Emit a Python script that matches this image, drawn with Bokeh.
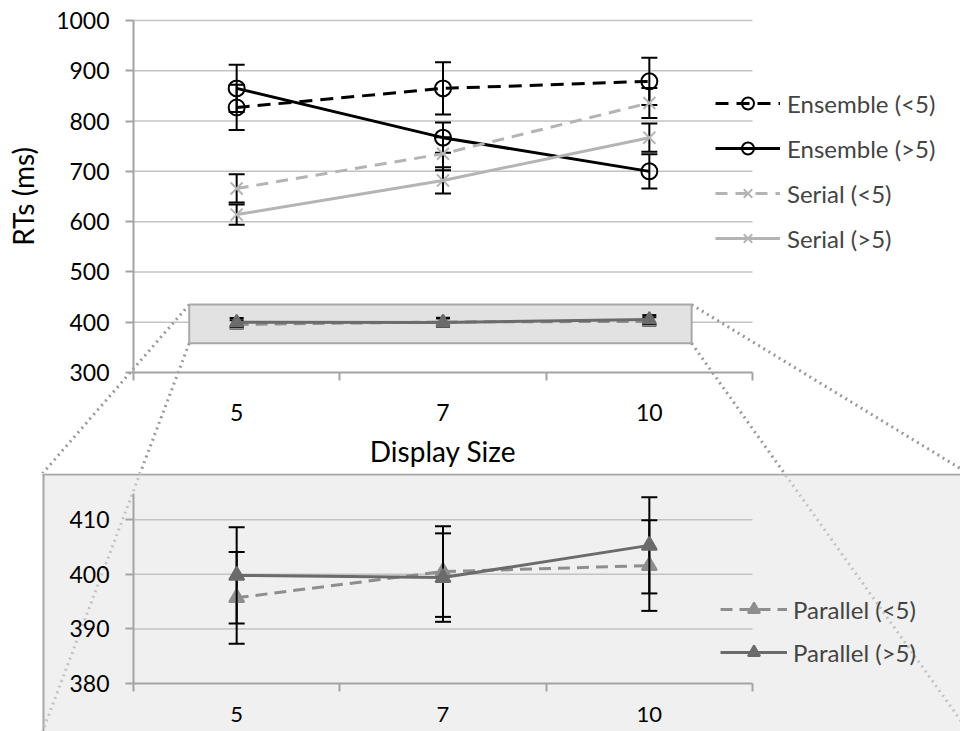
from bokeh.plotting import figure
from bokeh.models import Range1d, FixedTicker, Legend, LegendItem
from bokeh.layouts import column
from bokeh.embed import file_html
from bokeh.resources import INLINE

# ---------------- data ----------------
categories = ["5", "7", "10"]

ensemble_lt5 = [827, 865, 879]
ensemble_lt5_err = [45, 52, 47]
ensemble_gt5 = [865, 767, 700]
ensemble_gt5_err = [47, 30, 34]
serial_lt5 = [666, 735, 836]
serial_lt5_err = [28, 33, 30]
serial_gt5 = [614, 682, 767]
serial_gt5_err = [20, 26, 28]
parallel_lt5 = [395.7, 400.5, 401.6]
parallel_lt5_err = [8.4, 8.3, 8.3]
parallel_gt5 = [399.8, 399.4, 405.3]
parallel_gt5_err = [8.8, 8.1, 8.8]

main_y_ticks = [300, 400, 500, 600, 700, 800, 900, 1000]
inset_y_ticks = [380, 390, 400, 410]

# ---------------- styles ----------------
FONT = "Lato"
ENS = "#000000"
SER = "#b4b4b4"
PAR_LT = "#8e8e8e"
PAR_GT = "#6b6b6b"
GRID = "#c3c3c3"
AXIS = "#a3a3a3"
DOT_TOP = "#9a9a9a"
DOT_BOT = "#c4c4c4"
PANEL = "#f0f0f0"

N = len(categories)
x_pos = [i + 0.5 for i in range(N)]
x_bounds = [float(i) for i in range(N + 1)]
label_map = {x: c for x, c in zip(x_pos, categories)}

MAIN_LO, MAIN_HI = 300, 1000
INSET_LO, INSET_HI = 380, 414.8

# page geometry (pixels) of the two plotting areas
W = 960
TOP_H, BOT_H = 473, 258
AX_L, AX_R = 133, 752            # category axis extent, both charts
TOP_T, TOP_B = 20, 372           # main chart value axis extent
BOT_T, BOT_B = 493, 683          # inset value axis extent (page y)
PANEL_L, PANEL_T, PANEL_R, PANEL_B = 42, 473, 968, 731

px_x = (AX_R - AX_L) / N
px_y1 = (TOP_B - TOP_T) / (MAIN_HI - MAIN_LO)
px_y2 = (BOT_B - BOT_T) / (INSET_HI - INSET_LO)

x_range = Range1d(-AX_L / px_x, (W - AX_L) / px_x)
y1_range = Range1d(MAIN_LO - (TOP_H - TOP_B) / px_y1, MAIN_HI + TOP_T / px_y1)
y2_range = Range1d(INSET_LO - (TOP_H + BOT_H - BOT_B) / px_y2,
                   INSET_HI + (BOT_T - TOP_H) / px_y2)


def top_data(X, Y):
    return ((X - AX_L) / px_x, MAIN_HI - (Y - TOP_T) / px_y1)


def top_px(x, y):
    return (AX_L + x * px_x, TOP_T + (MAIN_HI - y) * px_y1)


def bot_data(X, Y):
    return ((X - AX_L) / px_x, INSET_HI - (Y - BOT_T) / px_y2)


# zoom box in the main chart (data units)
BOX_L, BOX_R, BOX_B, BOX_T = 0.27, 2.705, 358, 435


def style_fig(fig, y_ticks, y_lo, y_hi, x_label_standoff):
    fig.outline_line_color = None
    fig.grid.visible = False
    fig.min_border = 0
    xa = fig.xaxis[0]
    ya = fig.yaxis[0]
    xa.fixed_location = y_lo
    xa.bounds = (0, N)
    ya.fixed_location = 0
    ya.bounds = (y_lo, y_hi)
    ya.ticker = FixedTicker(ticks=y_ticks)
    xa.ticker = FixedTicker(ticks=x_pos, minor_ticks=x_bounds)
    xa.major_label_overrides = label_map
    xa.major_tick_out = 0
    xa.major_tick_in = 0
    xa.minor_tick_out = 8
    xa.minor_tick_in = 0
    xa.minor_tick_line_color = AXIS
    xa.minor_tick_line_width = 2
    xa.major_label_standoff = x_label_standoff
    ya.major_tick_out = 8
    ya.major_tick_in = 0
    ya.minor_tick_line_color = None
    ya.major_tick_line_color = AXIS
    ya.major_tick_line_width = 2
    ya.major_label_standoff = 16
    for ax in (xa, ya):
        ax.axis_line_color = AXIS
        ax.axis_line_width = 2
        ax.major_label_text_font = FONT
        ax.major_label_text_font_size = "23px"
        ax.major_label_text_color = "#000000"
        ax.axis_label_text_font = FONT
        ax.axis_label_text_font_size = "28px"
        ax.axis_label_text_font_style = "normal"
        ax.axis_label_text_color = "#000000"
    # horizontal gridlines over the category extent
    grid_vals = [t for t in y_ticks if t > y_lo]
    fig.segment(x0=[0] * len(grid_vals), x1=[N] * len(grid_vals), y0=grid_vals, y1=grid_vals,
                line_color=GRID, line_width=1.5)


def add_series(fig, vals, errs, color, dash, marker, msize, filled, cap=16):
    ln = fig.line(x_pos, vals, line_color=color, line_width=3, line_dash=dash)
    lower = [v - e for v, e in zip(vals, errs)]
    upper = [v + e for v, e in zip(vals, errs)]
    fig.segment(x0=x_pos, y0=lower, x1=x_pos, y1=upper, line_color="black", line_width=2)
    fig.scatter(x=x_pos + x_pos, y=lower + upper, marker="dash", size=cap,
                line_color="black", line_width=2)
    mk = fig.scatter(x_pos, vals, marker=marker, size=msize, line_color=color,
                     fill_color=color if filled else None, line_width=2)
    return [ln, mk]


def dotted(fig, p0, p1, color, width=3, dash="2 4"):
    fig.segment(x0=[p0[0]], y0=[p0[1]], x1=[p1[0]], y1=[p1[1]],
                line_color=color, line_width=width, line_dash=dash)


# ---------------- main chart ----------------
p = figure(width=W, height=TOP_H, frame_width=W, frame_height=TOP_H, title=None,
           x_range=x_range, y_range=y1_range,
           output_backend="svg", toolbar_location=None)
style_fig(p, main_y_ticks, MAIN_LO, MAIN_HI, 23)
p.xaxis.axis_label = "Display Size"
p.xaxis.axis_label_standoff = 10
p.yaxis.axis_label = "RTs (ms)"
p.yaxis.axis_label_standoff = 13

box_tl = (BOX_L, BOX_T)
box_bl = (BOX_L, BOX_B)
box_tr = (BOX_R, BOX_T)
box_br = (BOX_R, BOX_B)

# magnifier lines (box corners -> inset panel corners)
dotted(p, box_tl, top_data(PANEL_L, PANEL_T), DOT_TOP)
dotted(p, box_bl, top_data(PANEL_L, PANEL_B), DOT_TOP)
dotted(p, box_tr, top_data(PANEL_R, PANEL_T), DOT_TOP)
dotted(p, box_br, top_data(PANEL_R, PANEL_B), DOT_TOP)

# zoom box
p.quad(left=[BOX_L], right=[BOX_R], bottom=[BOX_B], top=[BOX_T],
       fill_color="#e2e2e2", line_color="#a8a8a8", line_width=2)

r_ens_lt = add_series(p, ensemble_lt5, ensemble_lt5_err, ENS, "13 8", "circle", 16, False)
r_ens_gt = add_series(p, ensemble_gt5, ensemble_gt5_err, ENS, "solid", "circle", 16, False)
r_ser_lt = add_series(p, serial_lt5, serial_lt5_err, SER, "12 8", "x", 17, False)
r_ser_gt = add_series(p, serial_gt5, serial_gt5_err, SER, "solid", "x", 17, False)
add_series(p, parallel_lt5, parallel_lt5_err, PAR_LT, "12 7", "triangle", 13, True, cap=14)
add_series(p, parallel_gt5, parallel_gt5_err, PAR_GT, "solid", "triangle", 13, True, cap=14)

legend = Legend(items=[LegendItem(label="Ensemble (<5)", renderers=r_ens_lt),
                       LegendItem(label="Ensemble (>5)", renderers=r_ens_gt),
                       LegendItem(label="Serial (<5)", renderers=r_ser_lt),
                       LegendItem(label="Serial (>5)", renderers=r_ser_gt)],
                location=(715, TOP_H - 253), padding=0, margin=0, spacing=15,
                glyph_width=65, glyph_height=30, label_height=30, label_standoff=7,
                label_text_font=FONT, label_text_font_size="24px",
                border_line_color=None, background_fill_alpha=0)
p.add_layout(legend)

# ---------------- inset chart ----------------
q = figure(width=W, height=BOT_H, frame_width=W, frame_height=BOT_H, title=None,
           x_range=x_range, y_range=y2_range,
           output_backend="svg", toolbar_location=None)

# grey panel with its top and left border
pl, pt = bot_data(PANEL_L, PANEL_T)
pr, pb = bot_data(PANEL_R, PANEL_B + 20)
q.quad(left=[pl], right=[pr], bottom=[pb], top=[pt], fill_color=PANEL, line_color=None)
dotted(q, bot_data(PANEL_L, PANEL_T + 1), bot_data(PANEL_R, PANEL_T + 1), "#a8a8a8", width=2, dash="solid")
dotted(q, bot_data(PANEL_L + 1, PANEL_T), bot_data(PANEL_L + 1, PANEL_B + 20), "#a8a8a8", width=2, dash="solid")

style_fig(q, inset_y_ticks, INSET_LO, INSET_HI, 15)
q.xaxis.major_label_text_font_size = "22px"

# magnifier lines continuing through the panel
dotted(q, bot_data(*top_px(*box_bl)), bot_data(PANEL_L, PANEL_B), DOT_BOT)
dotted(q, bot_data(*top_px(*box_br)), bot_data(PANEL_R, PANEL_B), DOT_BOT)

r_par_lt = add_series(q, parallel_lt5, parallel_lt5_err, PAR_LT, "12 7", "triangle", 15, True)
r_par_gt = add_series(q, parallel_gt5, parallel_gt5_err, PAR_GT, "solid", "triangle", 15, True)

legend2 = Legend(items=[LegendItem(label="Parallel (<5)", renderers=r_par_lt),
                        LegendItem(label="Parallel (>5)", renderers=r_par_gt)],
                 location=(720, TOP_H + BOT_H - 667), padding=0, margin=0, spacing=13,
                 glyph_width=67, glyph_height=30, label_height=30, label_standoff=6,
                 label_text_font=FONT, label_text_font_size="24px",
                 border_line_color=None, background_fill_alpha=0)
q.add_layout(legend2)

layout = column(p, q)

open("out.html", "w").write(file_html(layout, INLINE))
